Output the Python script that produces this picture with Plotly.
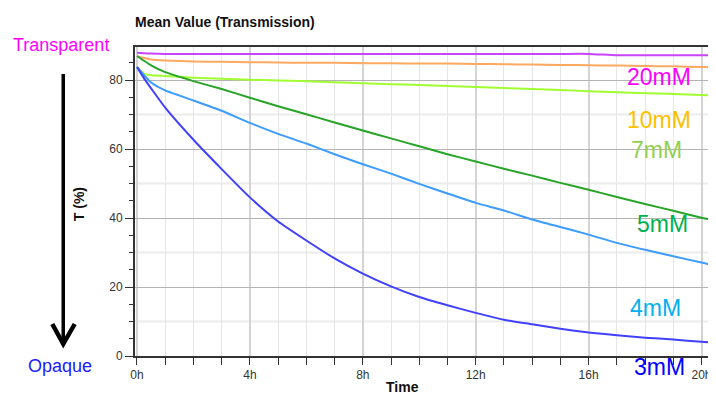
import plotly.graph_objects as go

hours = [0, 0.25, 0.5, 1, 2, 3, 4, 5, 6, 7, 8, 9, 10, 11, 12, 13, 14, 15, 16, 17, 18, 19, 20, 20.3]

t_20mM = [87.9, 87.8, 87.7, 87.6, 87.6, 87.6, 87.6, 87.6, 87.6, 87.6, 87.6, 87.6, 87.6, 87.6, 87.6, 87.6, 87.6, 87.6, 87.6, 87.2, 87.2, 87.2, 87.2, 87.2]
t_10mM = [86.9, 86.4, 86.0, 85.7, 85.4, 85.3, 85.2, 85.1, 85.0, 85.0, 84.9, 84.9, 84.8, 84.8, 84.7, 84.6, 84.5, 84.4, 84.3, 84.2, 84.1, 84.0, 83.8, 83.8]
t_7mM = [83.8, 81.8, 81.4, 81.2, 80.7, 80.4, 80.1, 79.9, 79.7, 79.4, 79.1, 78.8, 78.6, 78.3, 78.0, 77.7, 77.4, 77.1, 76.8, 76.5, 76.2, 76.0, 75.7, 75.6]
t_5mM = [87.0, 85.6, 84.3, 82.3, 79.7, 77.4, 74.9, 72.4, 70.1, 67.7, 65.4, 63.1, 60.8, 58.5, 56.4, 54.3, 52.3, 50.2, 48.2, 46.1, 44.1, 42.1, 40.1, 39.6]
t_4mM = [83.8, 81.4, 79.3, 77.0, 74.1, 71.1, 67.6, 64.4, 61.6, 58.5, 55.6, 52.9, 49.9, 47.1, 44.4, 42.2, 39.6, 37.4, 35.2, 32.8, 30.8, 28.9, 27.1, 26.5]
t_3mM = [83.8, 80.5, 77.6, 72.0, 62.7, 54.2, 46.0, 39.0, 33.5, 28.3, 23.9, 20.2, 17.1, 14.7, 12.5, 10.5, 9.2, 7.9, 6.8, 6.0, 5.3, 4.8, 4.1, 4.0]

series_names = ["20mM", "10mM", "7mM", "5mM", "4mM", "3mM"]
series_values = [t_20mM, t_10mM, t_7mM, t_5mM, t_4mM, t_3mM]
line_colors = ["#c844ff", "#ffa860", "#a0ff30", "#28a428", "#3c9cff", "#4040ff"]
label_colors = ["#ff00ff", "#ffc000", "#92d050", "#00b050", "#00b0f0", "#0000ff"]

x_tick_vals = [0, 4, 8, 12, 16, 20]
x_tick_text = ["0h", "4h", "8h", "12h", "16h", "20h"]
y_tick_vals = [0, 20, 40, 60, 80]

# the page body has an 8px margin; figure is placed at (8, 8) in the window
OFF = 8
W, H = 716 - OFF, 396 - OFF
# plot area in window pixels: x 135..712, y 47..356
L, R, T, B = 135 - OFF, 716 - 712, 47 - OFF, 396 - 356
PW, PH = W - L - R, H - T - B

def px(x):  # window pixel -> paper x
    return (x - OFF - L) / PW

def py(y):  # window pixel -> paper y
    return (H - B - (y - OFF)) / PH

fig = go.Figure()
for name, vals, col in zip(series_names, series_values, line_colors):
    fig.add_trace(go.Scatter(x=hours, y=vals, mode="lines", name=name,
                             line=dict(color=col, width=2, shape="spline", smoothing=0.5),
                             showlegend=False))

tickfont = dict(family="Liberation Sans, Arial, sans-serif", size=12, color="#333")

fig.update_layout(
    width=W, height=H,
    margin=dict(l=L, r=R, t=T, b=B),
    paper_bgcolor="white", plot_bgcolor="white",
    font=dict(family="Liberation Sans, Arial, sans-serif"),
    title=dict(text="<b>Mean Value (Transmission)</b>", x=(135 - OFF) / W, xanchor="left",
               y=1 - (22 - OFF) / H, yanchor="middle", xref="container", yref="container",
               font=dict(size=14, color="#111")),
    xaxis=dict(range=[-0.07, 20.3], tickmode="array", tickvals=x_tick_vals, ticktext=x_tick_text,
               ticks="outside", ticklen=7, tickcolor="#333", tickwidth=1,
               showgrid=True, gridcolor="#d4d4d4", gridwidth=2,
               minor=dict(dtick=1, ticks="outside", ticklen=7, tickcolor="#333",
                          showgrid=True, gridcolor="#e6e6e6", gridwidth=1),
               showline=True, linecolor="#333", linewidth=2, mirror=True,
               zeroline=False, tickfont=tickfont),
    yaxis=dict(range=[0, 89.6], tickmode="array", tickvals=y_tick_vals,
               ticks="outside", ticklen=8, tickcolor="#333", tickwidth=1,
               showgrid=True, gridcolor="#b4b4b4", gridwidth=1,
               minor=dict(dtick=5, ticks="outside", ticklen=4, tickcolor="#333", showgrid=False),
               showline=True, linecolor="#333", linewidth=2, mirror=True,
               zeroline=False, tickfont=tickfont),
)

# light intermediate horizontal gridlines every 10
shapes = []
for v in range(10, 90, 20):
    shapes.append(dict(type="line", xref="paper", yref="y", x0=0, x1=1, y0=v, y1=v,
                       line=dict(color="#ececec", width=2), layer="below"))
# arrow from Transparent to Opaque
shapes.append(dict(type="line", xref="paper", yref="paper", x0=px(63), x1=px(63),
                   y0=py(74), y1=py(343), line=dict(color="black", width=3.5)))
shapes.append(dict(type="path", xref="paper", yref="paper",
                   path=f"M {px(52)} {py(324)} L {px(63)} {py(344)} L {px(74.5)} {py(324)}",
                   line=dict(color="black", width=4.5)))
fig.update_layout(shapes=shapes)

annotations = [
    dict(text="Transparent", x=px(61), y=py(45), font=dict(size=18, color="#ff00ff")),
    dict(text="Opaque", x=px(60), y=py(366), font=dict(size=18, color="#1a1aff")),
    dict(text="<b>T (%)</b>", x=px(79), y=py(204), textangle=-90, font=dict(size=14, color="#111")),
    dict(text="<b>Time</b>", x=px(403), y=py(387), font=dict(size=14, color="#111")),
]
label_pos = [(661, 77), (661, 120), (658, 150), (664, 224), (657, 308), (661, 367)]
for name, col, (lx, ly) in zip(series_names, label_colors, label_pos):
    annotations.append(dict(text=name, x=px(lx), y=py(ly), font=dict(size=23, color=col)))
for a in annotations:
    a.update(xref="paper", yref="paper", showarrow=False, xanchor="center", yanchor="middle")
fig.update_layout(annotations=annotations)

fig.write_html("out.html")
